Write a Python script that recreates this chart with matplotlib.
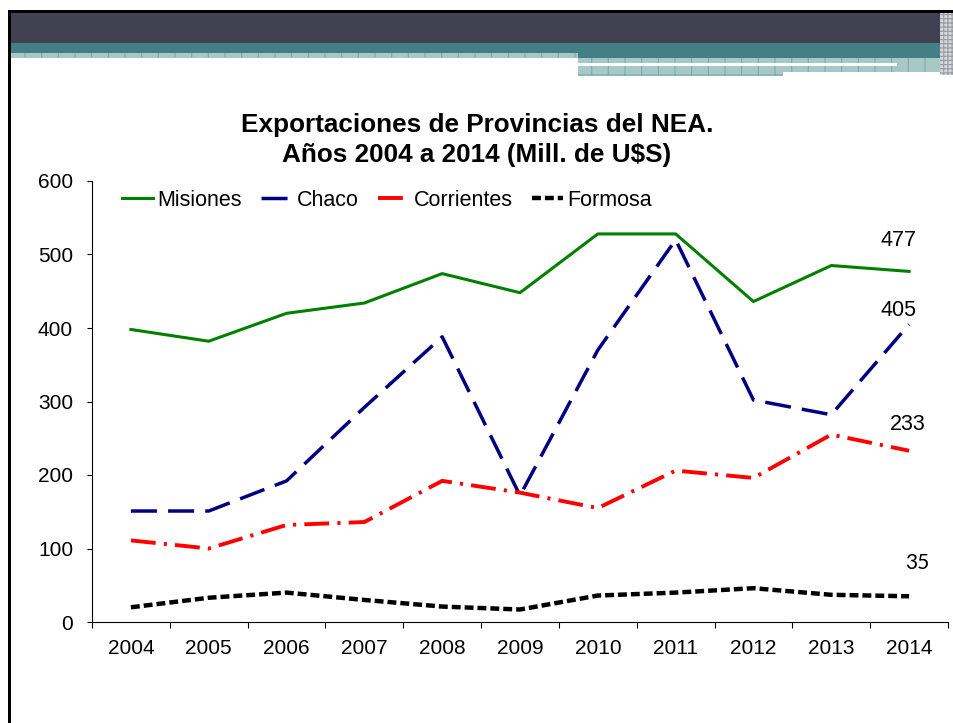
import matplotlib
matplotlib.use("Agg")
import matplotlib.pyplot as plt
from matplotlib.patches import Rectangle

plt.rcParams['font.family'] = ['Liberation Sans', 'DejaVu Sans']
plt.rcParams['hatch.linewidth'] = 0.8

# data (Mill. de U$S)
years = ['2004', '2005', '2006', '2007', '2008', '2009', '2010', '2011', '2012', '2013', '2014']
misiones = [398, 382, 420, 434, 474, 448, 528, 528, 436, 485, 477]
chaco = [151, 151, 192, 292, 388, 172, 370, 520, 302, 282, 405]
corrientes = [111, 100, 132, 136, 192, 176, 155, 206, 196, 255, 233]
formosa = [20, 33, 40, 30, 21, 17, 36, 40, 46, 37, 35]
end_labels = ['477', '405', '233', '35']

W, H = 954, 723
fig = plt.figure(figsize=(W / 100, H / 100), dpi=100)


def px_rect(x0, y0, x1, y1, **kw):
    # rectangle given in pixel coords (origin top-left)
    r = Rectangle((x0 / W, 1 - y1 / H), (x1 - x0) / W, (y1 - y0) / H,
                  transform=fig.transFigure, linewidth=0, **kw)
    fig.patches.append(r)
    return r


# slide header decoration
check = '#a8c8c8'
check_line = '#7aabab'
px_rect(8, 10, W, 13, facecolor='black')
px_rect(8, 10, 11, H, facecolor='black')
px_rect(11, 13, W, 43, facecolor='#414152')
px_rect(11, 43, W, 53, facecolor='#437f84')
px_rect(578, 53, W, 58, facecolor='#437f84')
px_rect(11, 53, 578, 57.5, facecolor=check, hatch='|', edgecolor=check_line)
px_rect(578, 58, W, 62.5, facecolor=check, hatch='|', edgecolor=check_line)
px_rect(897, 62.5, W, 66, facecolor=check, hatch='|', edgecolor=check_line)
px_rect(578, 66, 783, 75.5, facecolor=check, hatch='+', edgecolor=check_line)
px_rect(783, 66, W, 72, facecolor=check, hatch='+', edgecolor=check_line)
px_rect(940, 13, W, 75, facecolor='#d8d8dc', hatch='++++', edgecolor='#9a9aa6')

# title
fig.text(477 / W, 1 - 125 / H, 'Exportaciones de Provincias del NEA.',
         ha='center', va='center', fontsize=18.8, fontweight='bold')
fig.text(477 / W, 1 - 155 / H, 'Años 2004 a 2014 (Mill. de U$S)',
         ha='center', va='center', fontsize=18.8, fontweight='bold')

ax = fig.add_axes([92 / W, 1 - 622 / H, (948 - 92) / W, (622 - 181) / H])
x = list(range(len(years)))

ax.plot(x, misiones, color='#008000', lw=2.2, label='Misiones')
ax.plot(x, chaco, color='#000080', lw=2.5, dashes=(7.5, 3.2), label='Chaco')
ax.plot(x, corrientes, color='#ff0000', lw=2.8, dashes=(6.4, 2.1, 0.8, 2.1), label='Corrientes')
ax.plot(x, formosa, color='black', lw=3.2, dashes=(2.0, 0.9), label='Formosa')

ax.set_xlim(-0.5, len(years) - 0.5)
ax.set_ylim(0, 600)
ax.set_yticks(range(0, 601, 100))
ax.set_xticks(x)
ax.set_xticklabels(years)
ax.set_xticks([i - 0.5 for i in range(len(years) + 1)], minor=True)
ax.tick_params(axis='x', which='major', length=0, pad=12, labelsize=15)
ax.tick_params(axis='x', which='minor', length=4.5, width=0.8, direction='out')
ax.tick_params(axis='y', length=3.6, width=0.8, direction='out', pad=10, labelsize=15)
for s in ['top', 'right']:
    ax.spines[s].set_visible(False)
for s in ['left', 'bottom']:
    ax.spines[s].set_linewidth(0.8)

# end labels for 2014
last = len(years) - 1
ax.annotate(end_labels[0], (last, misiones[-1]), xytext=(-11, 31), textcoords='offset pixels',
            ha='center', va='center', fontsize=15.5)
ax.annotate(end_labels[1], (last, chaco[-1]), xytext=(-11, 14), textcoords='offset pixels',
            ha='center', va='center', fontsize=15.5)
ax.annotate(end_labels[2], (last, corrientes[-1]), xytext=(-1, 26), textcoords='offset pixels',
            ha='center', va='center', fontsize=15.5)
ax.annotate(end_labels[3], (last, formosa[-1]), xytext=(8, 33), textcoords='offset pixels',
            ha='center', va='center', fontsize=15, family=['Lato', 'DejaVu Sans'])

ax.legend(loc='center left', bbox_to_anchor=((122 - 92) / 856, (622 - 200) / 441),
          ncol=4, frameon=False, fontsize=15.5, handlelength=1.45, handletextpad=0.2,
          columnspacing=0.9, borderpad=0, borderaxespad=0)

fig.savefig('out.png', dpi=100)
